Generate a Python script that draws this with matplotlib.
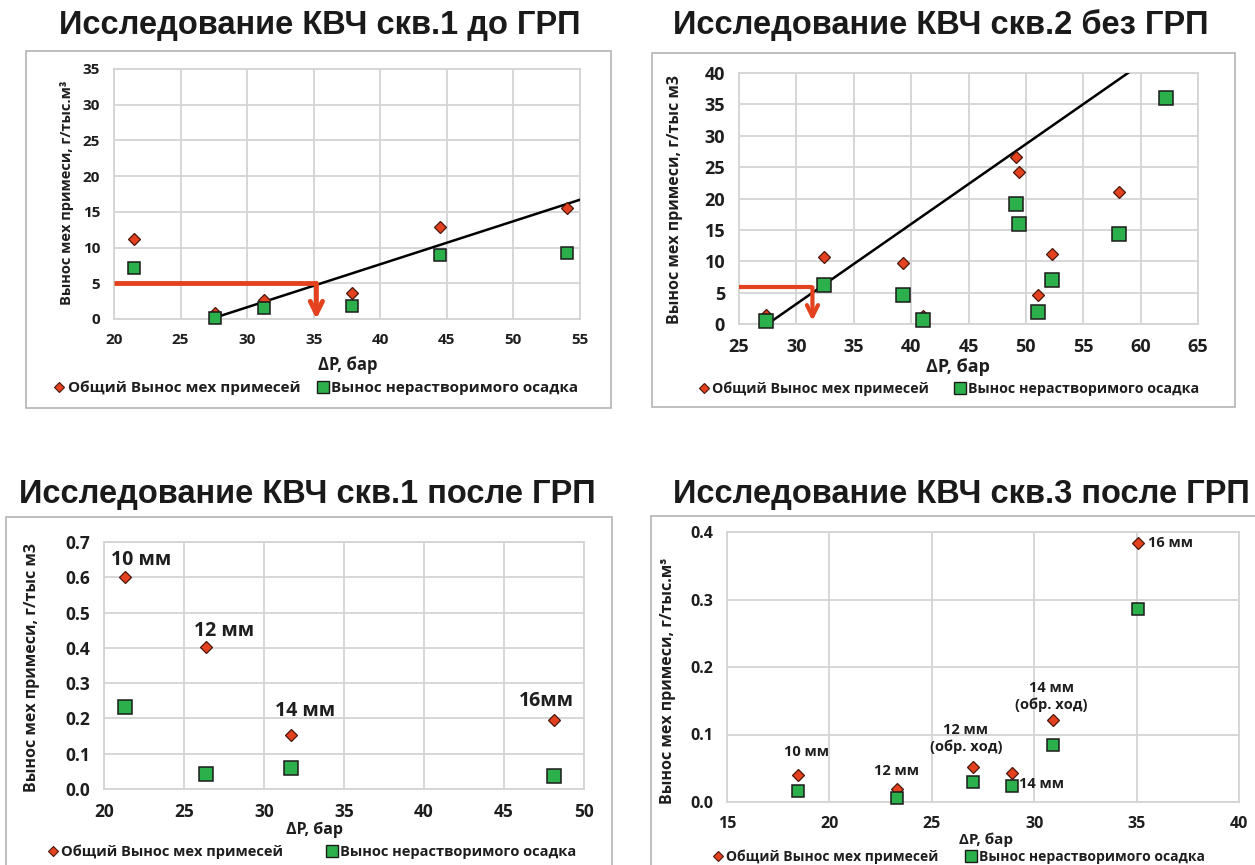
import numpy as np
import matplotlib
matplotlib.use("Agg")
import matplotlib.pyplot as plt
from matplotlib.patches import Rectangle
from matplotlib.lines import Line2D
from matplotlib.ticker import FormatStrFormatter

# ---- data ----
titles = ["Исследование КВЧ скв.1 до ГРП", "Исследование КВЧ скв.2 без ГРП",
          "Исследование КВЧ скв.1 после ГРП", "Исследование КВЧ скв.3 после ГРП"]
series_names = ["Общий Вынос мех примесей", "Вынос нерастворимого осадка"]
xlabel = "ΔP, бар"
ylabels = ["Вынос мех примеси, г/тыс.м³", "Вынос мех примеси, г/тыс м3",
           "Вынос мех примеси, г/тыс м3", "Вынос мех примеси, г/тыс.м³"]

# скв.1 до ГРП
p1_dp = [21.5, 27.6, 31.3, 37.9, 44.5, 54.0]
p1_total = [11.2, 0.8, 2.7, 3.6, 12.9, 15.6]
p1_insol = [7.1, 0.1, 1.5, 1.8, 8.9, 9.2]
p1_trend_x = [27.6, 55.0]
p1_trend_y = [0.2, 16.7]
p1_guide_x = [20.0, 35.2]
p1_guide_y = [5.0, 0.0]

# скв.2 без ГРП
p2_dp_total = [27.35, 32.4, 39.3, 41.0, 49.1, 49.4, 51.1, 52.3, 58.1]
p2_total = [1.4, 10.7, 9.8, 1.3, 26.6, 24.3, 4.6, 11.2, 21.1]
p2_dp_insol = [27.35, 32.4, 39.3, 41.0, 49.1, 49.4, 51.1, 52.3, 58.1, 62.2]
p2_insol = [0.5, 6.2, 4.6, 0.6, 19.2, 15.9, 1.9, 7.0, 14.3, 36.0]
p2_trend_x = [27.65, 58.9]
p2_trend_y = [0.2, 40.0]
p2_guide_x = [25.0, 31.4]
p2_guide_y = [5.85, 0.5]

# скв.1 после ГРП
p3_dp = [21.3, 26.35, 31.7, 48.1]
p3_total = [0.600, 0.403, 0.153, 0.196]
p3_insol = [0.233, 0.042, 0.059, 0.038]
p3_labels = ["10 мм", "12 мм", "14 мм", "16мм"]

# скв.3 после ГРП
p4_dp = [18.47, 23.3, 27.0, 28.9, 30.9, 35.07]
p4_total = [0.040, 0.019, 0.052, 0.043, 0.121, 0.383]
p4_insol = [0.016, 0.006, 0.030, 0.023, 0.084, 0.286]
p4_labels = ["10 мм", "12 мм", "12 мм\n(обр. ход)", "14 мм", "14 мм\n(обр. ход)", "16 мм"]

# ---- drawing ----
W, H = 1255, 865
RED = "#e4421f"
GREEN = "#2cb04b"
TXT = "#1e1e1e"
GRID = "#d4d4d4"

plt.rcParams['font.family'] = ['Open Sans', 'DejaVu Sans']
plt.rcParams['font.weight'] = 'bold'
plt.rcParams['text.color'] = TXT

fig = plt.figure(figsize=(W / 100, H / 100), dpi=100)


def px_axes(left, top, right, bottom):
    return fig.add_axes([left / W, 1 - bottom / H, (right - left) / W, (bottom - top) / H])


def frame(left, top, right, bottom):
    fig.patches.append(Rectangle((left / W, 1 - bottom / H), (right - left) / W, (bottom - top) / H,
                                 transform=fig.transFigure, fill=False, ec="#b4b4b4", lw=1.2))


def ftext(x, y, s, **kw):
    return fig.text(x / W, 1 - y / H, s, **kw)


def style(ax, xlim, ylim, xstep, ystep, fs, fmt=None):
    ax.set_xlim(*xlim)
    ax.set_ylim(*ylim)
    ax.set_xticks(np.arange(xlim[0], xlim[1] + xstep / 2, xstep))
    ax.set_yticks(np.arange(ylim[0], ylim[1] + ystep / 2, ystep))
    if fmt:
        ax.yaxis.set_major_formatter(FormatStrFormatter(fmt))
    ax.grid(True, color=GRID, lw=1.3)
    ax.set_axisbelow(True)
    for s in ax.spines.values():
        s.set_color(GRID)
        s.set_linewidth(1.3)
    ax.tick_params(length=0, labelsize=fs, colors=TXT, pad=10)
    for lab in ax.get_xticklabels() + ax.get_yticklabels():
        lab.set_fontweight('bold')
    ax.set_facecolor('none')


def points(ax, x1, y1, x2, y2, dsize=6, ssize=8.5):
    ax.plot(x1, y1, 'D', ms=dsize, mfc=RED, mec="#4a170c", mew=0.9, ls='none', zorder=4, clip_on=False)
    ax.plot(x2, y2, 's', ms=ssize, mfc=GREEN, mec="#1b1b1b", mew=1.1, ls='none', zorder=5, clip_on=False)


def legend(cx, cy, fs, gap):
    h = [Line2D([], [], marker='D', ls='none', ms=5.5, mfc=RED, mec="#4a170c", mew=0.8),
         Line2D([], [], marker='s', ls='none', ms=8.5, mfc=GREEN, mec="#1b1b1b", mew=1.0)]
    fig.legend(h, series_names, loc='center', bbox_to_anchor=(cx / W, 1 - cy / H), ncol=2,
               frameon=False, prop={'size': fs, 'weight': 'bold'}, handlelength=0.7,
               handletextpad=0.2, columnspacing=gap, borderpad=0, borderaxespad=0)


def guide(ax, gx, gy, lw, ms):
    ax.plot(gx, [gy[0], gy[0]], color=RED, lw=lw, solid_capstyle='butt', zorder=3)
    ax.annotate('', xy=(gx[1], gy[1]), xytext=(gx[1], gy[0]), annotation_clip=False,
                arrowprops=dict(arrowstyle='->', color=RED, lw=lw, shrinkA=0, shrinkB=0,
                                mutation_scale=ms), zorder=3)


title_kw = dict(family=['Liberation Sans', 'DejaVu Sans'], fontsize=23.5, fontweight='bold',
                ha='center', va='baseline', color="#1a1a1a")

# panel 1
frame(26, 51, 611, 408)
ftext(320, 34, titles[0], **title_kw)
ax1 = px_axes(114, 69, 580, 319)
style(ax1, (20, 55), (0, 35), 5, 5, 11)
ax1.plot(p1_trend_x, p1_trend_y, color='black', lw=1.8, zorder=3)
guide(ax1, p1_guide_x, p1_guide_y, 3.5, 22)
points(ax1, p1_dp, p1_total, p1_dp, p1_insol)
ftext(348, 365, xlabel, fontsize=12, ha='center', va='center', fontweight='bold')
ftext(67, 193, ylabels[0], fontsize=10.5, rotation=90, ha='center', va='center', fontweight='bold')
legend(316, 388, 11, 1.1)

# panel 2
frame(652, 53, 1235, 407)
ftext(941, 34, titles[1], **title_kw)
ax2 = px_axes(739, 73, 1198, 324)
style(ax2, (25, 65), (0, 40), 5, 5, 13)
ax2.plot(p2_trend_x, p2_trend_y, color='black', lw=1.8, zorder=3)
guide(ax2, p2_guide_x, p2_guide_y, 3.0, 20)
points(ax2, p2_dp_total, p2_total, p2_dp_insol, p2_insol, 6.5, 9.5)
ftext(958, 367, xlabel, fontsize=13, ha='center', va='center', fontweight='bold')
ftext(675, 200, ylabels[1], fontsize=11.5, rotation=90, ha='center', va='center', fontweight='bold')
legend(949, 389, 10.3, 1.8)

# panel 3
frame(6, 517, 612, 880)
ftext(307, 503, titles[2], **title_kw)
ax3 = px_axes(104, 542, 584, 789)
style(ax3, (20, 50), (0, 0.7), 5, 0.1, 12.5, '%.1f')
points(ax3, p3_dp, p3_total, p3_dp, p3_insol, 6.5, 9.5)
for x, y, s, off in zip(p3_dp, p3_total, p3_labels, [(-10, 9), (-8, 8), (-12, 14), (-25, 10)]):
    ax3.annotate(s, (x, y), xytext=off, textcoords='offset points', ha='left', va='baseline',
                 fontsize=14, fontweight='bold', color=TXT)
ftext(314, 830, xlabel, fontsize=11.5, ha='center', va='center', fontweight='bold')
ftext(32, 668, ylabels[2], fontsize=11.5, rotation=90, ha='center', va='center', fontweight='bold')
legend(312, 852, 10.5, 3.0)

# panel 4
frame(651, 516, 1262, 880)
ftext(961, 503, titles[3], **title_kw)
ax4 = px_axes(727, 532, 1239, 802)
style(ax4, (15, 40), (0, 0.4), 5, 0.1, 11.5, '%.1f')
points(ax4, p4_dp, p4_total, p4_dp, p4_insol, 6, 8.5)
offs4 = [(6, 14, 'center', 'baseline'), (0, 10, 'center', 'baseline'), (-5, 9, 'center', 'bottom'),
         (5, -11, 'left', 'baseline'), (-1, 6, 'center', 'bottom'), (7, 0, 'left', 'center')]
for x, y, s, (dx, dy, ha, va) in zip(p4_dp, p4_total, p4_labels, offs4):
    ax4.annotate(s, (x, y), xytext=(dx, dy), textcoords='offset points', ha=ha, va=va,
                 fontsize=10.5, fontweight='bold', color=TXT, linespacing=1.25)
ftext(986, 840, xlabel, fontsize=11, ha='center', va='center', fontweight='bold')
ftext(668, 681, ylabels[3], fontsize=11.5, rotation=90, ha='center', va='center', fontweight='bold')
legend(959, 857, 10, 2.0)

fig.savefig("out.png", dpi=100, facecolor='white')
